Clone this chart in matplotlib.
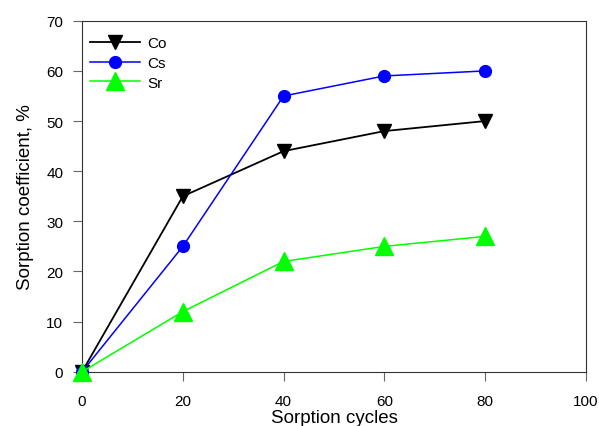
import matplotlib.pyplot as plt

plt.rcParams['font.family'] = ['Liberation Sans', 'DejaVu Sans']

cycles = [0, 20, 40, 60, 80]
co = [0, 35, 44, 48, 50]
cs = [0, 25, 55, 59, 60]
sr = [0, 12, 22, 25, 27]

fig = plt.figure(figsize=(5.99, 4.27), dpi=100)
ax = fig.add_axes([0.137, 0.127, 0.841, 0.822])

ax.plot(cycles, co, color="black", marker="v", markersize=9.5, linewidth=1.3,
        label="Co", clip_on=False, zorder=3)
ax.plot(cycles, cs, color="blue", marker="o", markersize=8.5, linewidth=1.1,
        label="Cs", clip_on=False, zorder=3)
ax.plot(cycles, sr, color="#00ff00", marker="^", markersize=12.5, linewidth=1.1,
        label="Sr", clip_on=False, zorder=4)

ax.set_xlim(0, 100)
ax.set_ylim(0, 70)
ax.set_xticks([0, 20, 40, 60, 80, 100])
ax.set_yticks(range(0, 71, 10))
ax.tick_params(direction="out", length=6.5, width=0.8, color="#666666",
               labelsize=11)
ax.tick_params(axis="x", pad=9.5)
ax.tick_params(axis="y", pad=7)
for s in ax.spines.values():
    s.set_linewidth(0.8)
    s.set_color("#333333")
ax.set_xlabel("Sorption cycles", fontsize=13.5, labelpad=1)
ax.set_ylabel("Sorption coefficient, %", fontsize=13.5, labelpad=9)

ax.legend(loc="upper left", bbox_to_anchor=(-0.006, 0.986), frameon=False,
          fontsize=11, handlelength=3.3, handletextpad=0.45, borderaxespad=0.3,
          borderpad=0.4, labelspacing=0.37)

fig.savefig("out.png", dpi=100)
